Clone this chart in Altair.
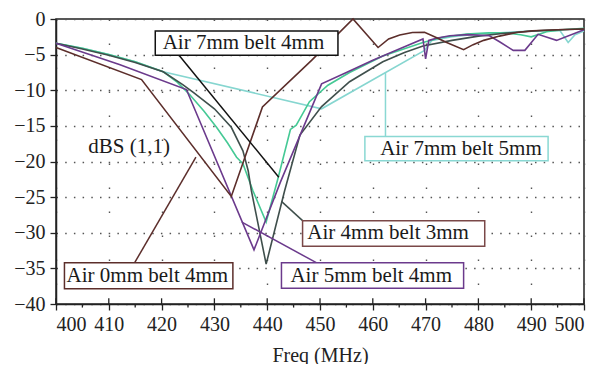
import altair as alt
import pandas as pd

# ---- series values (Freq MHz, dBS(1,1)) ----
a0b4_f = [400, 416.2, 433.2, 439.1, 448.4, 456.25, 461.0, 463.0, 465.1, 467.5, 469.8, 472.0, 474.0, 477.2, 479.0, 481.0, 484.0, 487.2, 490.3, 495.0, 500]
a0b4_d = [-4.0, -8.5, -24.9, -12.35, -5.8, 0.0, -4.0, -2.8, -2.25, -1.9, -1.85, -2.6, -3.3, -4.3, -3.6, -3.0, -2.4, -1.9, -1.65, -1.5, -1.4]

a5b4_f = [400, 412, 424.7, 437.5, 442.5, 450.3, 455, 460, 465, 469.5, 470.0, 470.6, 472.0, 474.6, 478.0, 482.1, 484.0, 486.6, 488.8, 491.3, 494.8, 500]
a5b4_d = [-3.4, -6.4, -9.9, -32.4, -22.9, -9.1, -7.5, -5.8, -4.2, -2.8, -5.6, -3.0, -2.7, -2.35, -2.2, -2.35, -3.2, -4.4, -4.4, -2.15, -3.0, -1.5]

a4b3_f = [400, 405, 410, 415, 420.3, 424, 426, 430, 433.2, 435.4, 436.4, 437.0, 439.8, 443.3, 446.2, 450.3, 455.6, 461.9, 466, 469.5, 475, 480, 485, 490, 495, 500]
a4b3_d = [-3.4, -4.2, -5.1, -6.1, -7.4, -9.2, -10.3, -12.6, -15.2, -18.5, -21.3, -24.1, -34.4, -24.1, -16.3, -12.3, -8.8, -6.0, -4.7, -3.8, -3.0, -2.4, -2.0, -1.7, -1.5, -1.4]

a7b4_f = [400, 405, 410, 415, 420.3, 423, 425.3, 428, 430.4, 432.5, 434.2, 435.4, 437.3, 439.8, 442.0, 444.4, 445.5, 448, 451.5, 455.6, 461.9, 469.5, 473, 477.7, 482, 485.3, 488, 490, 492.9, 496, 500]
a7b4_d = [-3.4, -4.1, -5.0, -6.0, -7.4, -8.9, -10.6, -12.9, -15.2, -17.4, -19.4, -20.3, -24.1, -28.5, -22.5, -15.5, -14.9, -11.6, -9.3, -7.5, -5.2, -3.3, -2.6, -2.1, -1.95, -1.95, -2.2, -2.5, -1.8, -1.5, -1.3]

a7b5_f = [400, 405, 410, 415, 420.3, 450.3, 469.8, 471.2, 475, 480, 485, 490, 495.4, 497.0, 498.3, 500]
a7b5_d = [-3.4, -4.1, -5.0, -6.0, -7.4, -12.6, -4.4, -3.0, -2.5, -2.1, -1.9, -1.7, -1.6, -3.3, -2.2, -1.7]

# ---- annotation labels (text, box in data units, text anchor, leader line) ----
labels = ["Air 7mm belt 4mm", "Air 7mm belt 5mm", "Air 4mm belt 3mm", "Air 0mm belt 4mm", "Air 5mm belt 4mm"]
box_f1 = [418.8, 458.5, 446.7, 401.6, 442.7]
box_f2 = [453.4, 493.2, 481.2, 433.5, 477.2]
box_d1 = [-1.7, -16.5, -28.3, -34.2, -34.2]
box_d2 = [-5.1, -19.9, -31.9, -37.85, -37.8]
text_f = [420.2, 461.4, 447.6, 402.0, 444.4]
text_d = [-3.4, -18.2, -30.1, -36.0, -36.0]
lead_f1 = [423.3, 462.4, 442.7, 426.5, 435.2]
lead_d1 = [-5.1, -7.5, -25.6, -19.4, -28.5]
lead_f2 = [442.2, 462.4, 446.7, 414.9, 449.3]
lead_d2 = [-22.2, -16.5, -28.3, -34.2, -34.2]
box_colors = ["#111111", "#8ad8d3", "#7a4848", "#5c2e2b", "#6b3a8c"]
lead_colors = ["#111111", "#8ad8d3", "#3f4f4c", "#5c2e2b", "#6b3a8c"]

major_ticks = list(range(400, 501, 10))
minor_ticks = list(range(405, 500, 10))
y_ticks = list(range(0, -41, -5))

FONT = "Liberation Serif"

xs = alt.Scale(domain=[400, 500], nice=False, zero=False)
ys = alt.Scale(domain=[-40, 0], nice=False, zero=False)

x_axis = alt.Axis(values=major_ticks, title="Freq (MHz)", tickSize=6, labelPadding=4,
                  grid=True, gridDash=[1.5, 22.5], gridColor="#555", gridWidth=1.4,
                  domainColor="#222", tickColor="#222", domainWidth=1.5, tickWidth=1.3,
                  titlePadding=11, labelFont=FONT, labelFontSize=20, labelColor="#222",
                  titleFont=FONT, titleFontSize=20, titleFontWeight="normal", titleColor="#222",
                  labelOverlap=False)
y_axis = alt.Axis(values=y_ticks, title=None, tickSize=6, labelPadding=5,
                  grid=True, gridDash=[1.5, 7.2], gridColor="#555", gridWidth=1.4,
                  domainColor="#222", tickColor="#222", domainWidth=1.5, tickWidth=1.3,
                  labelFont=FONT, labelFontSize=20, labelColor="#222", labelOverlap=False)


def X(field):
    return alt.X(field, type="quantitative", scale=xs, axis=x_axis)


def Y(field):
    return alt.Y(field, type="quantitative", scale=ys, axis=y_axis)


series = [
    (a7b5_f, a7b5_d, "#86d6d0"),
    (a7b4_f, a7b4_d, "#45c995"),
    (a4b3_f, a4b3_d, "#3f4f4c"),
    (a5b4_f, a5b4_d, "#6b3a8c"),
    (a0b4_f, a0b4_d, "#5c2e2b"),
]

layers = []
for f, d, col in series:
    df = pd.DataFrame({"f": f, "d": d, "i": range(len(f))})
    layers.append(alt.Chart(df).mark_line(color=col, strokeWidth=1.6).encode(
        x=X("f"), y=Y("d"), order="i:Q"))

# minor x ticks (below the axis) and inner stubs of the major ticks
minor_df = pd.DataFrame({"f": minor_ticks, "y1": [-40] * len(minor_ticks), "y2": [-40.5] * len(minor_ticks)})
layers.append(alt.Chart(minor_df).mark_rule(color="#222", strokeWidth=1.3).encode(
    x=X("f"), y=Y("y1"), y2="y2:Q"))
inner_df = pd.DataFrame({"f": major_ticks, "y1": [-40] * len(major_ticks), "y2": [-39.2] * len(major_ticks)})
layers.append(alt.Chart(inner_df).mark_rule(color="#222", strokeWidth=1.3).encode(
    x=X("f"), y=Y("y1"), y2="y2:Q"))

ann = pd.DataFrame({
    "label": labels, "bf1": box_f1, "bf2": box_f2, "bd1": box_d1, "bd2": box_d2,
    "tf": text_f, "td": text_d, "lf1": lead_f1, "ld1": lead_d1, "lf2": lead_f2, "ld2": lead_d2,
    "bc": box_colors, "lc": lead_colors,
})

layers.append(alt.Chart(ann).mark_rule(strokeWidth=1.5).encode(
    x=X("lf1"), y=Y("ld1"), x2="lf2:Q", y2="ld2:Q",
    color=alt.Color("lc:N", scale=None)))
layers.append(alt.Chart(ann).mark_rect(fill="white", strokeWidth=1.5).encode(
    x=X("bf1"), x2="bf2:Q", y=Y("bd1"), y2="bd2:Q",
    stroke=alt.Stroke("bc:N", scale=None)))
layers.append(alt.Chart(ann).mark_text(font=FONT, fontSize=21, align="left", baseline="middle", color="#1a1a1a").encode(
    x=X("tf"), y=Y("td"), text="label:N"))

dbs = pd.DataFrame({"t": ["dBS (1,1)"], "f": [406.1], "d": [-18.0]})
layers.append(alt.Chart(dbs).mark_text(font=FONT, fontSize=21, align="left", baseline="middle", color="#1a1a1a").encode(
    x=X("f"), y=Y("d"), text="t:N"))

chart = alt.layer(*layers).properties(
    width=528, height=285,
    autosize=alt.AutoSizeParams(type="none"),
    padding={"left": 48, "top": 11, "right": 9, "bottom": 60},
    background="white",
).configure_view(stroke="#222", strokeWidth=1.5)

chart.save("out.html", embed_options={"renderer": "svg", "actions": False})
